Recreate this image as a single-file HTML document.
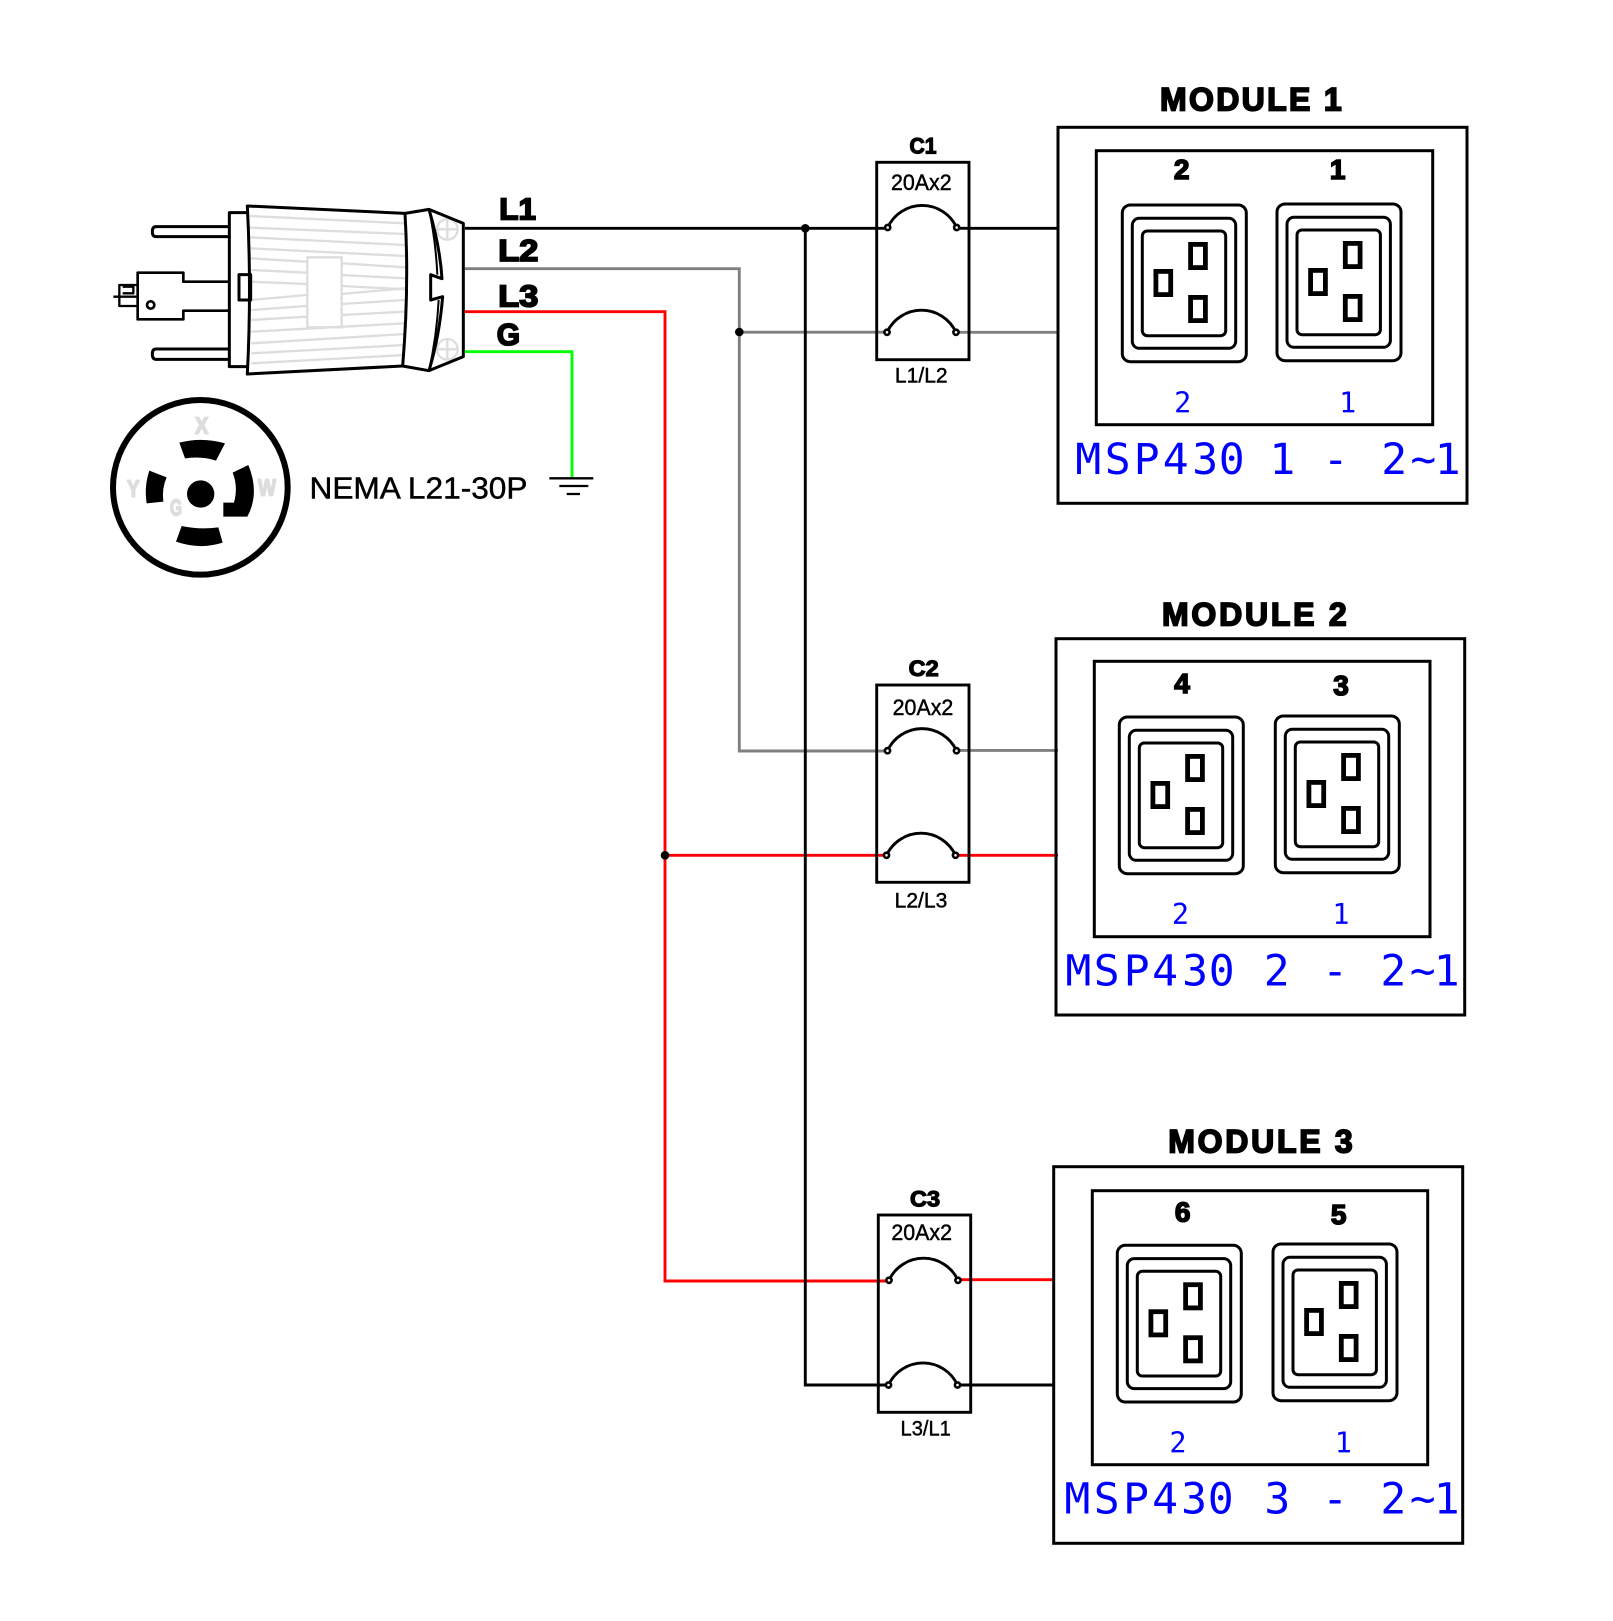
<!DOCTYPE html>
<html>
<head>
<meta charset="utf-8">
<style>
html,body{margin:0;padding:0;background:#fff}
svg{display:block}
.b{font-family:"Liberation Sans",sans-serif;font-weight:bold;fill:#000;stroke:#000}
.r{font-family:"Liberation Sans",sans-serif;fill:#000;stroke:#000;stroke-width:.45}
.m{font-family:"DejaVu Sans Mono",monospace;fill:#00f}
</style>
</head>
<body>
<svg xmlns="http://www.w3.org/2000/svg" width="1613" height="1621" viewBox="0 0 1613 1621">
<defs>
<g id="o" fill="none" stroke="#000">
<rect x="0" y="0" width="124" height="156.7" rx="8" stroke-width="3"/>
<rect x="10" y="13.3" width="103.4" height="130" rx="7" stroke-width="3"/>
<rect x="20" y="26" width="83.4" height="104.7" rx="5" stroke-width="3"/>
<rect x="68.3" y="39.4" width="14.8" height="23.2" stroke-width="4.8"/>
<rect x="33.6" y="66.4" width="14.8" height="23.2" stroke-width="4.8"/>
<rect x="68.3" y="92.4" width="14.8" height="23.2" stroke-width="4.8"/>
</g>
<g id="c" fill="none" stroke="#000" stroke-width="2.9">
<path d="M0 0A38 38 0 0 1 69 0"/>
<circle cx="0" cy="0" r="2.6" fill="#fff" stroke-width="2.6"/>
<circle cx="69" cy="0" r="2.6" fill="#fff" stroke-width="2.6"/>
</g>
</defs>

<!-- wires -->
<g fill="none" stroke-width="2.9">
<path d="M465 228.3H887M957 228.3H1058" stroke="#000"/>
<path d="M465 268.7H739.3V751H887M739.3 332.2H887M957 332.3H1058M957 750.4H1058" stroke="#808080"/>
<path d="M465 311.7H665V1281H889M665 855.3H887M955 855.3H1058M958 1279.7H1054" stroke="#f00"/>
<path d="M465 351.7H572V478" stroke="#0f0"/>
<path d="M805.3 228.3V1385H889M957 1385H1054" stroke="#000"/>
</g>
<circle cx="805.3" cy="228.3" r="4.3"/>
<circle cx="739.3" cy="332" r="4.3"/>
<circle cx="665" cy="855.3" r="4.3"/>

<!-- breakers -->
<g fill="none" stroke="#000" stroke-width="2.9">
<rect x="876.7" y="162.3" width="92.3" height="197.4"/>
<rect x="876.7" y="685" width="92.3" height="197.3"/>
<rect x="878.3" y="1215" width="92.4" height="197.3"/>
</g>
<use href="#c" x="887.7" y="227.5"/>
<use href="#c" x="887" y="332.3"/>
<use href="#c" x="887.5" y="750.7"/>
<use href="#c" x="886.5" y="855.3"/>
<use href="#c" x="889" y="1280.3"/>
<use href="#c" x="888.5" y="1385"/>

<g text-anchor="middle">
<text class="b" x="923" y="153.3" font-size="22" stroke-width="1.2" textLength="27" lengthAdjust="spacingAndGlyphs">C1</text>
<text class="b" x="923.7" y="676" font-size="22" stroke-width="1.2" textLength="30" lengthAdjust="spacingAndGlyphs">C2</text>
<text class="b" x="925" y="1206.7" font-size="22" stroke-width="1.2" textLength="30" lengthAdjust="spacingAndGlyphs">C3</text>
<text class="r" x="921.3" y="190" font-size="22.5" textLength="60.7" lengthAdjust="spacingAndGlyphs">20Ax2</text>
<text class="r" x="923" y="715" font-size="22.5" textLength="60.7" lengthAdjust="spacingAndGlyphs">20Ax2</text>
<text class="r" x="921.7" y="1240" font-size="22.5" textLength="60.7" lengthAdjust="spacingAndGlyphs">20Ax2</text>
<text class="r" x="921.3" y="382.3" font-size="21" textLength="52.7" lengthAdjust="spacingAndGlyphs">L1/L2</text>
<text class="r" x="921" y="907.3" font-size="21" textLength="52.7" lengthAdjust="spacingAndGlyphs">L2/L3</text>
<text class="r" x="925.7" y="1435.7" font-size="21" textLength="50.3" lengthAdjust="spacingAndGlyphs">L3/L1</text>
</g>

<!-- modules -->
<g fill="none" stroke="#000" stroke-width="3">
<rect x="1058" y="127.3" width="409" height="376"/>
<rect x="1096.3" y="150.7" width="336.4" height="274"/>
<rect x="1056" y="638.7" width="408.7" height="376.3"/>
<rect x="1094.3" y="661.3" width="335.7" height="275.4"/>
<rect x="1053.7" y="1166.7" width="409" height="376.6"/>
<rect x="1092.3" y="1190.7" width="335.4" height="274"/>
</g>
<use href="#o" x="1122.3" y="205"/>
<use href="#o" x="1277" y="204"/>
<use href="#o" x="1119.3" y="717"/>
<use href="#o" x="1275.3" y="716"/>
<use href="#o" x="1117.3" y="1245.3"/>
<use href="#o" x="1273" y="1244"/>

<g>
<text class="b" x="1160" y="110.7" font-size="32" stroke-width="1.7" textLength="181.7" lengthAdjust="spacing">MODULE 1</text>
<text class="b" x="1162" y="625.7" font-size="32" stroke-width="1.7" textLength="184.7" lengthAdjust="spacing">MODULE 2</text>
<text class="b" x="1168.3" y="1152.7" font-size="32" stroke-width="1.7" textLength="184.4" lengthAdjust="spacing">MODULE 3</text>
</g>
<g text-anchor="middle">
<text class="b" x="1181.7" y="179" font-size="28" stroke-width="1.6">2</text>
<text class="b" x="1337.7" y="179" font-size="28" stroke-width="1.6">1</text>
<text class="b" x="1182" y="693" font-size="28" stroke-width="1.6">4</text>
<text class="b" x="1341" y="695" font-size="28" stroke-width="1.6">3</text>
<text class="b" x="1182.7" y="1221.7" font-size="28" stroke-width="1.6">6</text>
<text class="b" x="1338.7" y="1224" font-size="28" stroke-width="1.6">5</text>
<text class="m" x="1182.7" y="412.3" font-size="28.5">2</text>
<text class="m" x="1347.7" y="412.3" font-size="28.5">1</text>
<text class="m" x="1180.5" y="924" font-size="28.5">2</text>
<text class="m" x="1341" y="924" font-size="28.5">1</text>
<text class="m" x="1178" y="1452.3" font-size="28.5">2</text>
<text class="m" x="1343.3" y="1452.3" font-size="28.5">1</text>
</g>
<text class="m" y="474" font-size="43" x="1075.2 1104.8 1133.8 1162.8 1192.2 1218.8 1241 1269.4 1291 1322.8 1351 1381.2 1410.4 1434.8">MSP430 1 - 2~1</text>
<text class="m" y="985.3" font-size="43" x="1065.4 1093.8 1123.8 1152.1 1182.1 1208.8 1241 1263.8 1291 1322.1 1351 1380.4 1409.8 1433.8">MSP430 2 - 2~1</text>
<text class="m" y="1513.3" font-size="43" x="1064.4 1093.8 1123.1 1152.1 1181.1 1207.8 1241 1264.4 1291 1322.1 1351 1380.4 1409.8 1433.8">MSP430 3 - 2~1</text>

<!-- plug, drawn in 3x zoom units -->
<g transform="translate(90 180) scale(.33333)">
<g fill="none" stroke="#ddd" stroke-width="7">
<path d="M480 108L945 130M480 143L945 162M480 172L945 195M482 205L945 228M482 235L650 245M755 250L945 262M484 270L650 278M755 285L945 295M484 305L650 312M755 318L945 328M484 360L650 345M755 342L945 325M484 390L650 378M755 372L945 360M484 420L650 410M755 405L945 395M484 455L945 430M484 490L945 462M484 520L945 495M484 550L945 525"/>
<rect x="652" y="232" width="103" height="210"/>
<circle cx="1072" cy="148" r="31"/>
<circle cx="1072" cy="508" r="31"/>
<path d="M1041 148H1103M1072 117V179M1041 508H1103M1072 477V539"/>
</g>
<g fill="none" stroke="#000" stroke-width="9" stroke-linejoin="round">
<path d="M472 78L945 100Q958 320 938 558L472 582Q485 330 472 78Z"/>
<path d="M945 100L1017 88Q1050 200 1056 296L1022 284V360L1058 350Q1048 470 1017 572L938 558"/>
<path d="M1017 88Q1037 180 1042 284M1017 572Q1040 470 1046 360" stroke-width="6"/>
<path d="M1017 88L1120 130V530L1017 572"/>
<path d="M472 98H418V560H472"/>
<rect x="447" y="284" width="35" height="76"/>
<path d="M415 140H198Q187 140 187 155Q187 170 198 170H415"/>
<path d="M415 507H198Q187 507 187 522Q187 538 198 538H415"/>
<path d="M415 305H280V278H143V418H280V392H415" stroke-width="8"/>
<circle cx="182" cy="375" r="11" stroke-width="8"/>
<path d="M143 315H88V378H143M70 350H143M98 320H130V340H98" stroke-width="7"/>
</g>
<!-- NEMA face -->
<circle cx="331" cy="922" r="262" fill="none" stroke="#000" stroke-width="18"/>
<circle cx="332" cy="942" r="41"/>
<path d="M268 788Q335 770 405 790L378 842Q335 828 285 835Z"/>
<path d="M428 878L475 855Q510 940 472 1010H400V968H432Q445 920 428 878Z"/>
<path d="M178 872L230 892Q215 925 220 965L170 970Q162 920 178 872Z"/>
<path d="M275 1038Q330 1050 385 1042L398 1088Q330 1110 258 1085Z"/>
<g font-family="Liberation Sans,sans-serif" font-weight="bold" font-size="70" fill="#ddd" stroke="#ddd" stroke-width="5" text-anchor="middle">
<text x="335" y="760" textLength="40" lengthAdjust="spacingAndGlyphs">X</text>
<text x="130" y="950" textLength="38" lengthAdjust="spacingAndGlyphs">Y</text>
<text x="531" y="946" textLength="54" lengthAdjust="spacingAndGlyphs">W</text>
<text x="258" y="1006" textLength="36" lengthAdjust="spacingAndGlyphs">G</text>
</g>
<!-- ground -->
<path d="M1378 895H1510M1408 918H1495M1430 942H1470" fill="none" stroke="#000" stroke-width="7"/>
</g>

<g>
<text class="b" x="499.3" y="219.3" font-size="31" stroke-width="1.8" textLength="36.7" lengthAdjust="spacingAndGlyphs">L1</text>
<text class="b" x="498.3" y="261" font-size="31" stroke-width="1.8" textLength="40" lengthAdjust="spacingAndGlyphs">L2</text>
<text class="b" x="498.3" y="306.7" font-size="31" stroke-width="1.8" textLength="40" lengthAdjust="spacingAndGlyphs">L3</text>
<text class="b" x="496.7" y="345" font-size="31" stroke-width="1.8" textLength="23.3" lengthAdjust="spacingAndGlyphs">G</text>
<text class="r" x="309.5" y="498.3" font-size="30.3" textLength="218" lengthAdjust="spacingAndGlyphs">NEMA L21-30P</text>
</g>
</svg>
</body>
</html>
